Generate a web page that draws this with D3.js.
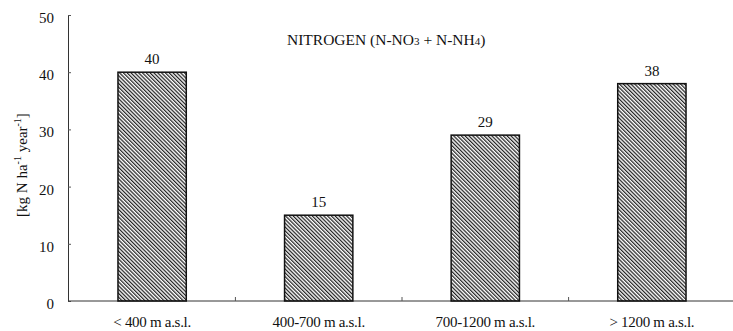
<!DOCTYPE html>
<html>
<head>
<meta charset="utf-8">
<script src="https://cdn.jsdelivr.net/npm/d3@7"></script>
<style>
  body { margin: 0; background: #fff; }
  text { font-family: "Liberation Serif", "Times New Roman", serif; fill: #111; }
</style>
</head>
<body>
<div id="chart"></div>
<script>
// altitude classes and nitrogen deposition
var categories = ["< 400 m a.s.l.", "400-700 m a.s.l.", "700-1200 m a.s.l.", "> 1200 m a.s.l."];
var values = [40, 15, 29, 38];
var yTicks = [0, 10, 20, 30, 40, 50];

var width = 733, height = 331;
var svg = d3.select("#chart").append("svg")
    .attr("width", width).attr("height", height);

// hatch pattern for the bars (lines running top-left to bottom-right)
var defs = svg.append("defs");
defs.append("pattern")
    .attr("id", "hatch")
    .attr("patternUnits", "userSpaceOnUse")
    .attr("width", 2.7).attr("height", 10)
    .attr("patternTransform", "rotate(-45)")
  .append("rect")
    .attr("x", 0).attr("y", 0)
    .attr("width", 1.25).attr("height", 10)
    .attr("fill", "#222");

var x = d3.scaleBand().domain(categories).range([68, 736])
    .paddingInner(0.59).paddingOuter(0.3);
var y = d3.scaleLinear().domain([0, 50]).range([301, 15]);

// y axis, ticks point inward
var yAxis = d3.axisLeft(y).tickValues(yTicks).tickSize(-3).tickSizeOuter(0);
var gy = svg.append("g").attr("transform", "translate(68,0)").call(yAxis);
gy.select(".domain").attr("stroke", "#333");
gy.selectAll("line").attr("stroke", "#555");
gy.selectAll("text").attr("x", -14).attr("dy", "0.5em").style("font-size", "15px")
    .style("font-family", "Liberation Serif");

// x axis with ticks between the classes
svg.append("line")
    .attr("x1", 68).attr("x2", 733)
    .attr("y1", y(0)).attr("y2", y(0))
    .attr("stroke", "#333");
svg.selectAll(".xtick").data(categories.slice(1)).enter().append("line")
    .attr("x1", function(d) { return x(d) - x.step() * x.paddingInner() / 2; })
    .attr("x2", function(d) { return x(d) - x.step() * x.paddingInner() / 2; })
    .attr("y1", y(0)).attr("y2", y(0) - 4)
    .attr("stroke", "#555");

svg.selectAll(".xlab").data(categories).enter().append("text")
    .attr("x", function(d) { return x(d) + x.bandwidth() / 2; })
    .attr("y", 327)
    .attr("text-anchor", "middle")
    .style("font-size", "15px")
    .style("letter-spacing", "-0.3px")
    .text(function(d) { return d; });

// bars
svg.selectAll(".bar").data(values).enter().append("rect")
    .attr("x", function(d, i) { return x(categories[i]); })
    .attr("y", function(d) { return y(d); })
    .attr("width", x.bandwidth())
    .attr("height", function(d) { return y(0) - y(d); })
    .attr("fill", "url(#hatch)")
    .attr("stroke", "#111")
    .attr("stroke-width", 1.5);

svg.selectAll(".val").data(values).enter().append("text")
    .attr("x", function(d, i) { return x(categories[i]) + x.bandwidth() / 2; })
    .attr("y", function(d) { return y(d) - 8; })
    .attr("text-anchor", "middle")
    .style("font-size", "15px")
    .text(function(d) { return d; });

// title
var title = svg.append("text").attr("x", 287).attr("y", 45).style("font-size", "15.5px");
title.append("tspan").text("NITROGEN (N-NO");
title.append("tspan").style("font-size", "11px").text("3");
title.append("tspan").text(" + N-NH");
title.append("tspan").style("font-size", "11px").text("4");
title.append("tspan").text(")");

// y label
var ylab = svg.append("text")
    .attr("transform", "translate(27,165) rotate(-90)")
    .attr("text-anchor", "middle")
    .style("font-size", "15px");
ylab.append("tspan").text("[kg N ha");
ylab.append("tspan").attr("dy", -6).style("font-size", "10px").text("-1");
ylab.append("tspan").attr("dy", 6).text(" year");
ylab.append("tspan").attr("dy", -6).style("font-size", "10px").text("-1");
ylab.append("tspan").attr("dy", 6).text("]");
</script>
</body>
</html>
